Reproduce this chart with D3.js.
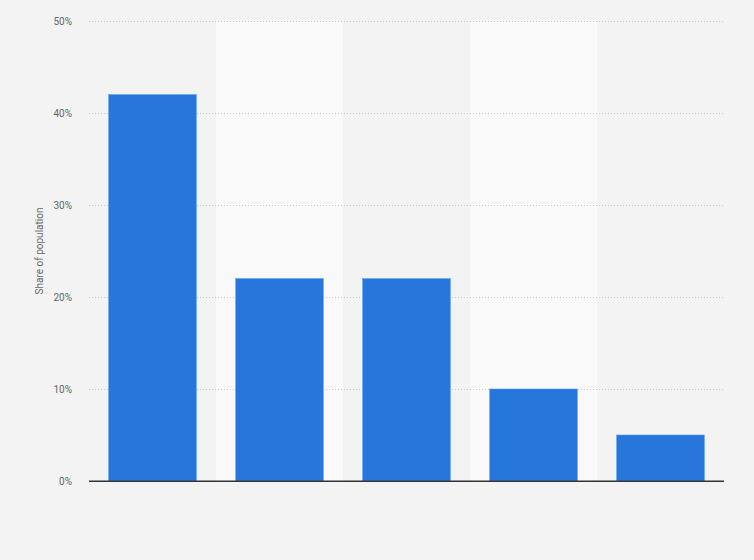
<!DOCTYPE html>
<meta charset="utf-8">
<head>
    <title>Share of population</title>
    <script src="https://cdn.jsdelivr.net/npm/d3@7"></script>
</head>

<style>
    body { margin: 0; background: #f3f3f3; }
    svg { display: block; font-family: Roboto, "Open Sans", sans-serif; }
    .grid line { stroke: #c8c8c8; stroke-dasharray: 1,2; }
    .grid .domain { display: none; }
    text.ytick { fill: #666; font-size: 10px; }
</style>

<svg></svg>

<script>
    var vWidth = 754;
    var vHeight = 560;

    // x labels are not shown in the picture
    var categories = ['A', 'B', 'C', 'D', 'E'];
    var shares = [42, 22, 22, 10, 5];
    var yTicks = [0, 10, 20, 30, 40, 50];

    var margin = {top: 21, right: 30, bottom: 79, left: 89};
    var w = vWidth - margin.left - margin.right;
    var h = vHeight - margin.top - margin.bottom;

    var svg = d3.select('svg').attr('width', vWidth).attr('height', vHeight);
    svg.append('rect').attr('width', vWidth).attr('height', vHeight).attr('fill', '#f3f3f3');

    var g = svg.append('g').attr('transform', 'translate(' + margin.left + ',' + margin.top + ')');

    var x = d3.scaleBand().domain(categories).range([0, w]).paddingInner(0.31).paddingOuter(0.155);
    var xFull = d3.scaleBand().domain(categories).range([0, w]);
    var y = d3.scaleLinear().domain([0, 50]).range([h, 0]);

    // alternating light bands behind every second column
    g.selectAll('rect.band').data(categories.filter(function (d, i) { return i % 2 === 1; }))
        .enter().append('rect').attr('class', 'band')
        .attr('x', function (d) { return xFull(d); })
        .attr('width', xFull.bandwidth())
        .attr('y', 0).attr('height', h)
        .attr('fill', '#f9f9f9');

    // grid
    g.append('g').attr('class', 'grid')
        .call(d3.axisLeft(y).tickValues(yTicks.slice(1)).tickSize(-w).tickFormat(''));

    // tick labels
    g.selectAll('text.ytick').data(yTicks).enter().append('text')
        .attr('class', 'ytick')
        .attr('x', -17).attr('y', function (d) { return y(d); })
        .attr('dy', '0.35em').attr('text-anchor', 'end')
        .text(function (d) { return d + '%'; });

    // bars
    g.selectAll('rect.bar').data(shares).enter().append('rect')
        .attr('class', 'bar')
        .attr('x', function (d, i) { return x(categories[i]); })
        .attr('width', x.bandwidth())
        .attr('y', function (d) { return y(d); })
        .attr('height', function (d) { return h - y(d); })
        .attr('fill', '#2776dc')
        .attr('stroke', '#5c9cf0').attr('stroke-width', 0.6);

    // baseline
    g.append('line').attr('x1', 0).attr('x2', w).attr('y1', h + 0.25).attr('y2', h + 0.25)
        .attr('stroke', '#333').attr('stroke-width', 1.5);

    // y label
    svg.append('text')
        .attr('transform', 'translate(43,' + (margin.top + h / 2) + ') rotate(-90)')
        .attr('text-anchor', 'middle')
        .attr('fill', '#666').attr('font-size', '10px')
        .text('Share of population');
</script>
